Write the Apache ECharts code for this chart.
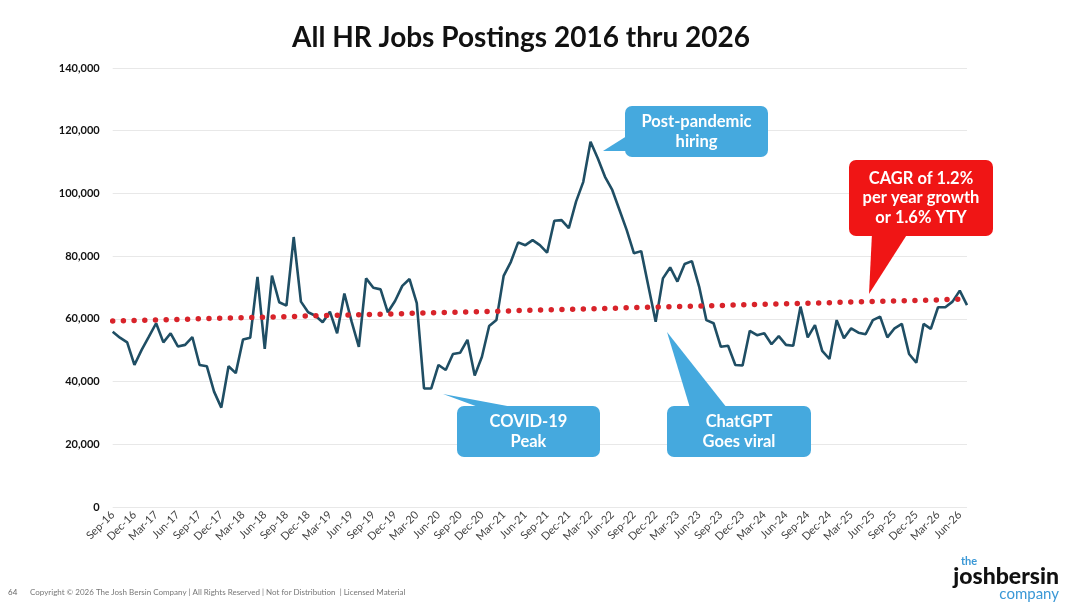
<!DOCTYPE html>
<html>
<head>
<meta charset="utf-8">
<script src="https://cdn.jsdelivr.net/npm/echarts@6/dist/echarts.min.js"></script>
<style>
html,body{margin:0;padding:0;background:#fff;}
#chart{width:1080px;height:608px;}
</style>
</head>
<body>
<div id="chart"></div>
<script>
// Monthly categories Sep-16 .. Jul-26
const monthNames = ['Jan','Feb','Mar','Apr','May','Jun','Jul','Aug','Sep','Oct','Nov','Dec'];
const startYear = 2016, startMonth = 8, monthCount = 119;
const categories = [];
for (let i = 0; i < monthCount; i++) {
  const m = (startMonth + i) % 12;
  const y = startYear + Math.floor((startMonth + i) / 12);
  categories.push(monthNames[m] + '-' + String(y).slice(2));
}

// All HR job postings
const postings2016_2018 = [
  55900, 54000, 52500, 45300, 50100, 54300, 58600, 52500, 55400, 51200,
  51700, 54200, 45300, 44900, 36800, 31700, 44900, 42700, 53400, 54000,
  73400, 50400, 73800, 65300, 64200, 86100, 65500, 62100, 61000, 58900
];
const postings2019_2021 = [
  62300, 55400, 68100, 59100, 51100, 72900, 69900, 69400, 62100, 65700,
  70500, 72700, 65000, 37800, 37800, 45300, 43700, 48800, 49200, 53300,
  41900, 47900, 57700, 59600, 73700, 78200, 84400, 83500, 85100, 83500
];
const postings2022_2024 = [
  81100, 91300, 91500, 88900, 97400, 103700, 116500, 111200, 105300, 101100,
  94700, 88300, 80900, 81600, 70300, 59100, 72900, 76400, 71900, 77500,
  78400, 70300, 59600, 58600, 51100, 51400, 45300, 45100, 56200, 54800
];
const postings2024_2026 = [
  55400, 51900, 54500, 51700, 51400, 63900, 54100, 58000, 49800, 47200,
  59600, 53800, 57000, 55600, 55100, 59600, 60700, 54100, 57000, 58400,
  48800, 46000, 58400, 56800, 63700, 63700, 65500, 69000, 64400
];
const postings = [].concat(postings2016_2018, postings2019_2021, postings2022_2024, postings2024_2026);

// Trend line end values
const trendStart = 59300;
const trendEnd = 66300;

// Y axis ticks
const yMin = 0, yMax = 140000, yStep = 20000;

const chart = echarts.init(document.getElementById('chart'));
const blue = '#45a9de';
const red = '#f01515';
const font = 'Lato, "Noto Sans", sans-serif';

function callout(box, tail, lines, color, lineH) {
  const els = [];
  els.push({type:'polygon', shape:{points:tail}, style:{fill:color}, z:10});
  els.push({type:'rect', shape:{x:box[0], y:box[1], width:box[2], height:box[3], r:7}, style:{fill:color}, z:10});
  const cx = box[0] + box[2] / 2;
  const cy = box[1] + box[3] / 2;
  const n = lines.length;
  lines.forEach((t, i) => {
    els.push({type:'text', x:cx, y:cy + (i - (n - 1) / 2) * lineH, z:11,
      style:{text:t, fill:'#fff', font:'bold 16.5px ' + font, textAlign:'center', textVerticalAlign:'middle'}});
  });
  return els;
}

const graphics = [].concat(
  [{type:'text', x:521, y:38, style:{text:'All HR Jobs Postings 2016 thru 2026', fill:'#111', font:'bold 28px ' + font, textAlign:'center', textVerticalAlign:'middle'}}],
  callout([625,106,143,51], [[603,151],[630,134],[630,151]], ['Post-pandemic','hiring'], blue, 20),
  callout([457,406,143,51], [[443,394],[481,408],[518,408]], ['COVID-19','Peak'], blue, 20),
  callout([667,406,144,51], [[667,332],[690,408],[727,408]], ['ChatGPT','Goes viral'], blue, 20),
  callout([849,160,144,76], [[869,294],[872,233],[908,233]], ['CAGR of 1.2%','per year growth','or 1.6% YTY'], red, 19.5),
  [
    {type:'text', x:8, y:592, style:{text:'64', fill:'#666', font:'8px ' + font, textVerticalAlign:'middle'}},
    {type:'text', x:30, y:592, style:{text:'Copyright \u00a9 2026 The Josh Bersin Company | All Rights Reserved | Not for Distribution  | Licensed Material', fill:'#777', font:'8px ' + font, textVerticalAlign:'middle'}},
    {type:'text', x:969, y:561, style:{text:'the', fill:'#3a98d6', font:'bold 11px ' + font, textAlign:'center', textVerticalAlign:'middle'}},
    {type:'text', x:1059, y:577, style:{text:'joshbersin', fill:'#111', font:'900 23px ' + font, textAlign:'right', textVerticalAlign:'middle'}},
    {type:'text', x:1059, y:594, style:{text:'company', fill:'#3a98d6', font:'15px ' + font, textAlign:'right', textVerticalAlign:'middle'}}
  ]
);

chart.setOption({
  animation: false,
  backgroundColor: '#fff',
  grid: {left: 112.7, right: 113, top: 68, bottom: 101, containLabel: false},
  xAxis: {
    type: 'category',
    data: categories,
    boundaryGap: false,
    axisLine: {show: false},
    axisTick: {show: false},
    axisLabel: {interval: 2, rotate: 45, color: '#444', fontSize: 11, fontFamily: font, margin: 6}
  },
  yAxis: {
    type: 'value',
    min: yMin, max: yMax, interval: yStep,
    axisLine: {show: false},
    axisTick: {show: false},
    splitLine: {lineStyle: {color: '#e8e8e8', width: 1}},
    axisLabel: {color: '#111', fontSize: 11, fontWeight: 'bold', fontFamily: font, margin: 13,
      formatter: v => v.toLocaleString('en-US')}
  },
  series: [{
    type: 'line',
    data: postings,
    symbol: 'none',
    lineStyle: {color: '#1f4e64', width: 2.6},
    z: 3,
    markLine: {
      silent: true,
      symbol: 'none',
      label: {show: false},
      lineStyle: {color: '#d8232a', width: 5.5, type: [0, 10.7], cap: 'round', opacity: 1},
      data: [[{coord: [0, trendStart]}, {coord: [monthCount - 1, trendEnd]}]]
    }
  }],
  graphic: graphics
});
</script>
</body>
</html>
